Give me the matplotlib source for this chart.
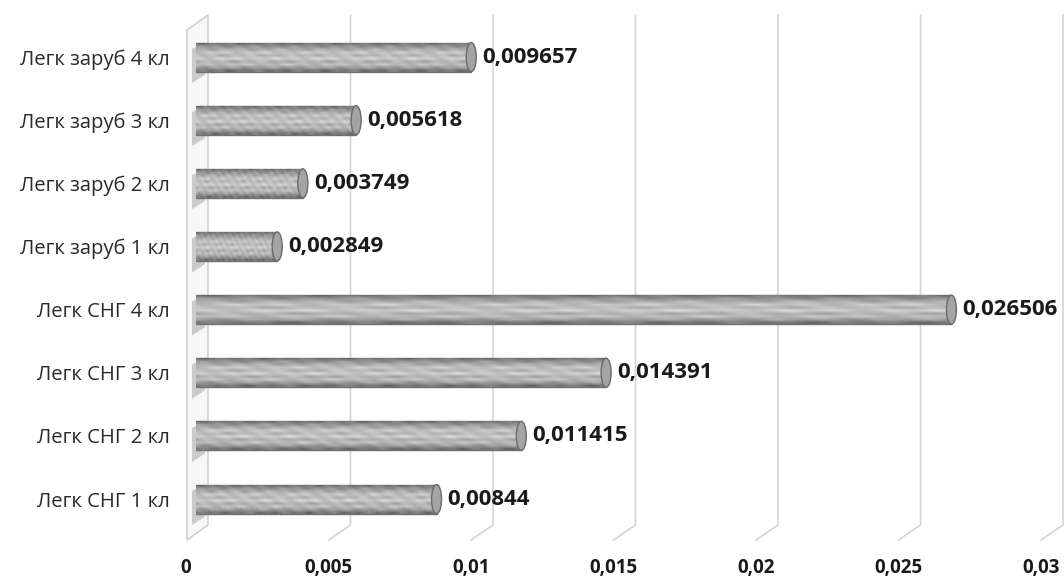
import numpy as np
import matplotlib
matplotlib.use("Agg")
import matplotlib.pyplot as plt
from matplotlib import transforms
from matplotlib.patches import Ellipse, Polygon

plt.rcParams["font.family"] = ["Open Sans", "DejaVu Sans"]

# data (bottom to top)
categories = ["Легк СНГ 1 кл", "Легк СНГ 2 кл", "Легк СНГ 3 кл", "Легк СНГ 4 кл",
              "Легк заруб 1 кл", "Легк заруб 2 кл", "Легк заруб 3 кл", "Легк заруб 4 кл"]
values = [0.00844, 0.011415, 0.014391, 0.026506,
          0.002849, 0.003749, 0.005618, 0.009657]
ticks = [0, 0.005, 0.01, 0.015, 0.02, 0.025, 0.03]
tick_labels = ["0", "0,005", "0,01", "0,015", "0,02", "0,025", "0,03"]

W, H = 1064, 576
fig = plt.figure(figsize=(W / 100, H / 100), dpi=100)
ax_h = 510
ax = fig.add_axes([196 / W, 51 / H, 855 / W, ax_h / H])
ax.set_xlim(0, 0.03)
ax.set_ylim(-0.41, 7.666)
ax.set_autoscale_on(False)
for s in ax.spines.values():
    s.set_visible(False)
ax.set_xticks([])
ax.set_yticks(range(len(categories)))
ax.set_yticklabels(categories, fontsize=14.6, color="#2a2a2a")
ax.tick_params(axis="y", length=0, pad=19)

xt = ax.get_xaxis_transform()


def px_at(x):
    # pixel-offset coordinates anchored at (data x, axes bottom)
    return transforms.Affine2D() + transforms.ScaledTranslation(x, 0, xt)


# back wall (left side)
wall = Polygon([(-9, -15), (12, 0), (12, ax_h), (-9, ax_h - 15)], closed=True,
               facecolor="#f7f7f7", edgecolor="#c9c9c9", lw=1,
               transform=px_at(0), clip_on=False, zorder=1)
ax.add_patch(wall)

# gridlines on the back plane + floor diagonals
for t in ticks[1:]:
    ax.plot([-10, 12, 12], [-15, 0, ax_h], color="#d4d4d4", lw=1.2,
            transform=px_at(t), clip_on=False, zorder=1)

# tick labels on the front edge
for t, lab in zip(ticks, tick_labels):
    ax.text(-10, -43, lab, transform=px_at(t), ha="center", va="center",
            fontsize=13.5, fontweight="bold", color="#1a1a1a")

bar_h = 0.46
bars = ax.barh(range(len(values)), values, height=bar_h, color="#b0b0b0",
               edgecolor="#707070", linewidth=1, zorder=3)

# shading inside each bar
profile = np.array([0.46, 0.62, 0.74, 0.69, 0.80, 0.72, 0.77, 0.68, 0.58, 0.46])
cols = np.linspace(0, 1, 300)
rows = np.arange(len(profile))[:, None]
shade = (profile[:, None]
         + 0.035 * np.sin(cols[None, :] * 90 + rows * 1.7)
         + 0.03 * np.sin(cols[None, :] * 37 - rows * 2.3))
wall_tr = transforms.blended_transform_factory(px_at(0), ax.transData)
cap_w = 0.03 * 10 / 855
for i, b in enumerate(bars):
    x0, y0, w, h = b.get_x(), b.get_y(), b.get_width(), b.get_height()
    im = ax.imshow(shade, extent=[x0, x0 + w, y0, y0 + h], origin="lower",
                   aspect="auto", cmap="gray", vmin=0, vmax=1,
                   interpolation="bilinear", zorder=3.5)
    im.set_clip_path(b)
    # wall shadow next to the bar
    ax.add_patch(Polygon([(-4, y0 - 0.18), (9, y0 - 0.05), (9, y0 + h), (-4, y0 + h - 0.1)],
                         closed=True, facecolor="#bdbdbd", edgecolor="none",
                         alpha=0.75, transform=wall_tr, clip_on=False, zorder=2))
    # rounded end cap
    ax.add_patch(Ellipse((x0 + w, y0 + h / 2), cap_w, h, facecolor="#a4a4a4",
                         edgecolor="#6a6a6a", lw=1, zorder=4))
    ax.annotate(str(values[i]).replace(".", ","), (x0 + w, y0 + h / 2),
                xytext=(8, 0), textcoords="offset points", va="center",
                ha="left", fontsize=16, fontweight="bold", color="#1a1a1a")

fig.savefig("out.png", dpi=100)
